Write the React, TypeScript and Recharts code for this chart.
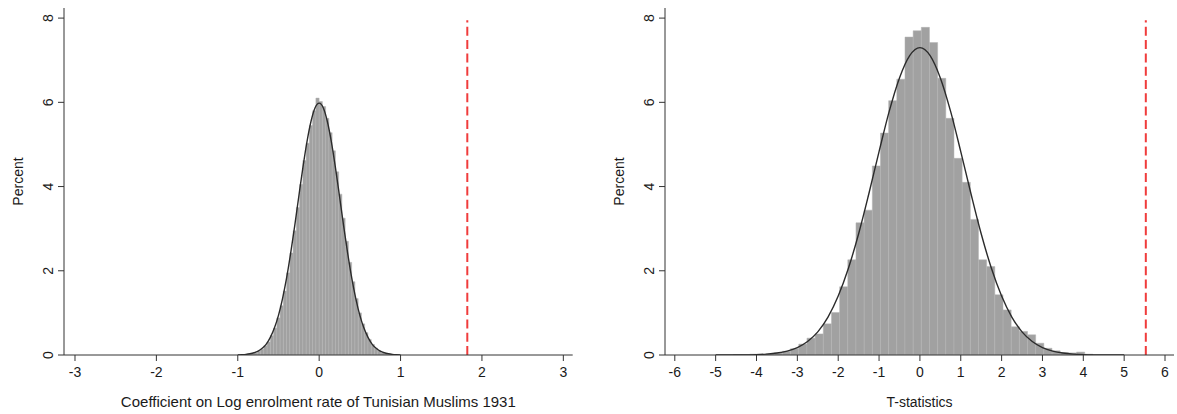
import React from "react";
import { ComposedChart, Bar, Line, XAxis, YAxis, ReferenceLine, Label } from "recharts";

// left panel: coefficient, bins of width 0.04 (centres)
const coefBins = [
  -0.9, -0.86, -0.82, -0.78, -0.74, -0.7, -0.66, -0.62, -0.58, -0.54, -0.5, -0.46, -0.42, -0.38, -0.34,
  -0.3, -0.26, -0.22, -0.18, -0.14, -0.1, -0.06, -0.02, 0.02, 0.06, 0.1, 0.14, 0.18, 0.22, 0.26, 0.3,
  0.34, 0.38, 0.42, 0.46, 0.5, 0.54, 0.58, 0.62, 0.66, 0.7, 0.74, 0.78, 0.82, 0.86,
];
const coefPct = [
  0.01, 0.02, 0.03, 0.05, 0.09, 0.14, 0.22, 0.31, 0.46, 0.64, 0.88, 1.17, 1.52, 1.95, 2.42,
  2.95, 3.5, 4.05, 4.62, 5.03, 5.45, 5.8, 6.1, 6.02, 5.9, 5.62, 5.28, 4.85, 4.35, 3.82, 3.25,
  2.7, 2.2, 1.74, 1.34, 1.0, 0.74, 0.53, 0.37, 0.25, 0.16, 0.1, 0.05, 0.03, 0.01,
];
// normal overlay
const coefCurveX = [
  -1.0, -0.95, -0.9, -0.85, -0.8, -0.75, -0.7, -0.65, -0.6, -0.55, -0.5, -0.45, -0.4, -0.35, -0.3, -0.25,
  -0.2, -0.15, -0.1, -0.05, 0, 0.05, 0.1, 0.15, 0.2, 0.25, 0.3, 0.35, 0.4, 0.45, 0.5, 0.55, 0.6, 0.65,
  0.7, 0.75, 0.8, 0.85, 0.9, 0.95, 1.0,
];
const coefCurvePct = [
  0.004, 0.008, 0.015, 0.029, 0.053, 0.093, 0.16, 0.26, 0.42, 0.64, 0.94, 1.34, 1.83, 2.42, 3.07, 3.77,
  4.45, 5.06, 5.55, 5.87, 5.98, 5.87, 5.55, 5.06, 4.45, 3.77, 3.07, 2.42, 1.83, 1.34, 0.94, 0.64, 0.42, 0.26,
  0.16, 0.093, 0.053, 0.029, 0.015, 0.008, 0.004,
];
const coefTicks = [-3, -2, -1, 0, 1, 2, 3];
const coefActual = 1.82;

// right panel: t-statistics, bins of width 0.2 (centres)
const tBins = [
  -4.465, -4.265, -4.065, -3.865, -3.665, -3.465, -3.265, -3.065, -2.865, -2.665, -2.465, -2.265, -2.065,
  -1.865, -1.665, -1.465, -1.265, -1.065, -0.865, -0.665, -0.465, -0.265, -0.065, 0.135, 0.335, 0.535,
  0.735, 0.935, 1.135, 1.335, 1.535, 1.735, 1.935, 2.135, 2.335, 2.535, 2.735, 2.935, 3.135, 3.335, 3.535,
  3.735, 3.935, 4.135,
];
const tPct = [
  0.01, 0.01, 0.02, 0.02, 0.03, 0.05, 0.09, 0.15, 0.26, 0.4, 0.5, 0.74, 1.01,
  1.62, 2.26, 3.14, 3.44, 4.49, 5.27, 6.04, 6.55, 7.55, 7.7, 7.78, 7.42, 6.57,
  5.62, 4.67, 4.1, 3.22, 2.26, 2.1, 1.43, 1.07, 0.67, 0.56, 0.48, 0.28, 0.16, 0.1, 0.06,
  0.05, 0.07, 0.02,
];
const tCurveX = [
  -5, -4.75, -4.5, -4.25, -4, -3.75, -3.5, -3.25, -3, -2.75, -2.5, -2.25, -2, -1.75, -1.5, -1.25, -1, -0.75,
  -0.5, -0.25, 0, 0.25, 0.5, 0.75, 1, 1.25, 1.5, 1.75, 2, 2.25, 2.5, 2.75, 3, 3.25, 3.5, 3.75, 4, 4.25,
  4.5, 4.75, 5,
];
const tCurvePct = [
  0.0005, 0.001, 0.002, 0.004, 0.01, 0.022, 0.046, 0.093, 0.177, 0.32, 0.55, 0.9, 1.4, 2.06, 2.88, 3.83, 4.83, 5.79,
  6.58, 7.11, 7.3, 7.11, 6.58, 5.79, 4.83, 3.83, 2.88, 2.06, 1.4, 0.9, 0.55, 0.32, 0.177, 0.093, 0.046, 0.022, 0.01, 0.004,
  0.002, 0.001, 0.0005,
];
const tTicks = [-6, -5, -4, -3, -2, -1, 0, 1, 2, 3, 4, 5, 6];
const tActual = 5.53;

const percentTicks = [0, 2, 4, 6, 8];

const FONT = "'Liberation Sans', Arial, sans-serif";
const AXIS = "#333";
const TEXT = "#1a1a1a";

const VerticalTick = (props: any) => {
  const { x, y, payload } = props;
  return (
    <text
      x={x}
      y={y}
      transform={`rotate(-90 ${x} ${y})`}
      textAnchor="middle"
      fontSize={14}
      fontFamily={FONT}
      fill={TEXT}
    >
      {payload.value}
    </text>
  );
};

const PercentLabel = (props: any) => {
  const vb = props.viewBox || { x: 0, y: 8, width: 64, height: 347 };
  const x = vb.x + 23;
  const y = vb.y + vb.height / 2;
  return (
    <text
      x={x}
      y={y}
      transform={`rotate(-90 ${x} ${y})`}
      textAnchor="middle"
      fontSize={14}
      fontFamily={FONT}
      fill={TEXT}
    >
      Percent
    </text>
  );
};

type PanelProps = {
  left: number;
  width: number;
  marginRight: number;
  domain: [number, number];
  ticks: number[];
  bins: number[];
  pct: number[];
  curveX: number[];
  curveY: number[];
  binWidth: number;
  actual: number;
  xLabel: string;
  xLabelSize: number;
};

function Panel(p: PanelProps) {
  const data = p.bins.map((x, i) => ({ x, pct: p.pct[i] }));
  const curve = p.curveX.map((x, i) => ({ x, y: p.curveY[i] }));
  const plotW = p.width - 64 - p.marginRight;
  const barSize = (p.binWidth * plotW) / (p.domain[1] - p.domain[0]) - 0.05;
  return (
    <div style={{ position: "absolute", left: p.left, top: 0 }}>
      <ComposedChart
        width={p.width}
        height={414}
        data={data}
        margin={{ top: 8, right: p.marginRight, bottom: 0, left: 0 }}
        barGap={0}
        barCategoryGap={0}
      >
        <XAxis
          dataKey="x"
          type="number"
          domain={p.domain}
          allowDataOverflow
          ticks={p.ticks}
          interval={0}
          height={59}
          tickSize={6}
          tickMargin={6}
          stroke={AXIS}
          tick={{ fontSize: 14, fontFamily: FONT, fill: TEXT }}
        >
          <Label
            value={p.xLabel}
            position="insideBottom"
            offset={7}
            style={{ fontSize: p.xLabelSize, fontFamily: FONT, fill: TEXT }}
          />
        </XAxis>
        <XAxis xAxisId="curve" dataKey="x" type="number" domain={p.domain} allowDataOverflow hide />
        <YAxis
          type="number"
          domain={[0, 8.24]}
          allowDataOverflow
          ticks={percentTicks}
          interval={0}
          width={64}
          tickSize={6}
          tickMargin={5}
          stroke={AXIS}
          tick={<VerticalTick />}
        >
          <Label content={<PercentLabel />} />
        </YAxis>
        <Bar
          dataKey="pct"
          fill="#a1a1a1"
          stroke="#b2b2b2"
          strokeWidth={0.5}
          barSize={barSize}
          isAnimationActive={false}
        />
        <Line
          xAxisId="curve"
          data={curve}
          dataKey="y"
          type="monotone"
          stroke="#2b2b2b"
          strokeWidth={1.4}
          dot={false}
          activeDot={false}
          isAnimationActive={false}
        />
        <ReferenceLine
          segment={[
            { x: p.actual, y: 0 },
            { x: p.actual, y: 7.95 },
          ]}
          stroke="#f03c3c"
          strokeWidth={2}
          strokeDasharray="9 4.3"
        />
      </ComposedChart>
    </div>
  );
}

export default function App() {
  return (
    <div style={{ position: "absolute", left: 0, top: 0, width: 1177, height: 414, background: "#fff" }}>
      <Panel
        left={0}
        width={588}
        marginRight={15.3}
        domain={[-3.135, 3.115]}
        ticks={coefTicks}
        bins={coefBins}
        pct={coefPct}
        curveX={coefCurveX}
        curveY={coefCurvePct}
        binWidth={0.04}
        actual={coefActual}
        xLabel="Coefficient on Log enrolment rate of Tunisian Muslims 1931"
        xLabelSize={15}
      />
      <Panel
        left={601}
        width={576}
        marginRight={3}
        domain={[-6.24, 6.22]}
        ticks={tTicks}
        bins={tBins}
        pct={tPct}
        curveX={tCurveX}
        curveY={tCurvePct}
        binWidth={0.2}
        actual={tActual}
        xLabel="T-statistics"
        xLabelSize={14}
      />
    </div>
  );
}
